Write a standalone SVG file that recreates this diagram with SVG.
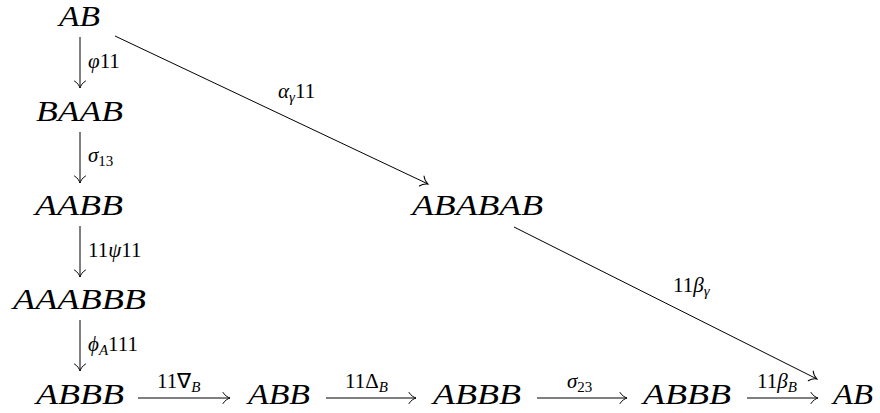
<svg xmlns="http://www.w3.org/2000/svg" width="880" height="413" viewBox="0 0 880 413">
<style>
.n{font-family:"Liberation Serif","Times New Roman",serif;font-style:italic;font-size:29px;fill:#000}
.l{font-family:"Liberation Serif","Times New Roman",serif;font-size:21px;fill:#000}
.i{font-style:italic}
.s{font-size:15px}
.e{stroke:#000;stroke-width:1;fill:none;marker-end:url(#tip)}
</style>
<defs>
<marker id="tip" markerUnits="userSpaceOnUse" viewBox="-8 -7 10 14" markerWidth="10" markerHeight="14" refX="0" refY="0" orient="auto">
<path d="M-7,-5.5 C-5,-2 -1.5,-0.5 0,0 C-1.5,0.5 -5,2 -7,5.5" stroke="#000" stroke-width="1" fill="none" stroke-linecap="round"/>
</marker>
</defs>
<rect width="880" height="413" fill="#fff"/>
<g id="connectors">
<line class="e" x1="80" y1="37" x2="80" y2="88"/>
<line class="e" x1="80" y1="132" x2="80" y2="183"/>
<line class="e" x1="80" y1="226" x2="80" y2="277"/>
<line class="e" x1="80" y1="320" x2="80" y2="371"/>
<line class="e" x1="138" y1="398" x2="230" y2="398"/>
<line class="e" x1="326" y1="398" x2="416" y2="398"/>
<line class="e" x1="537" y1="398" x2="627" y2="398"/>
<line class="e" x1="747" y1="398" x2="818" y2="398"/>
<line class="e" x1="115" y1="36" x2="428" y2="184"/>
<line class="e" x1="514" y1="227" x2="817" y2="379"/>
<text class="l" x="88" y="68"><tspan class="i">φ</tspan>11</text>
<text class="l" x="88" y="162"><tspan class="i">σ</tspan><tspan class="s" dy="4">13</tspan></text>
<text class="l" x="88" y="257">11<tspan class="i">ψ</tspan>11</text>
<text class="l" x="88" y="351"><tspan class="i">ϕ</tspan><tspan class="s i" dy="4">A</tspan><tspan dy="-4">111</tspan></text>
<text class="l" x="157" y="388">11∇<tspan class="s i" dy="4">B</tspan></text>
<text class="l" x="345" y="388">11Δ<tspan class="s i" dy="4">B</tspan></text>
<text class="l" x="567" y="388"><tspan class="i">σ</tspan><tspan class="s" dy="4">23</tspan></text>
<text class="l" x="757" y="388">11<tspan class="i">β</tspan><tspan class="s i" dy="4">B</tspan></text>
<text class="l" x="278" y="98"><tspan class="i">α</tspan><tspan class="s i" dy="4">γ</tspan><tspan dy="-4">11</tspan></text>
<text class="l" x="673" y="292">11<tspan class="i">β</tspan><tspan class="s i" dy="4">γ</tspan></text>
</g>
<g id="n1"><text class="n" x="59" y="26" textLength="41" lengthAdjust="spacingAndGlyphs">AB</text></g>
<g id="n2"><text class="n" x="36" y="121" textLength="87" lengthAdjust="spacingAndGlyphs">BAAB</text></g>
<g id="n3"><text class="n" x="35" y="215" textLength="88" lengthAdjust="spacingAndGlyphs">AABB</text></g>
<g id="n4"><text class="n" x="13" y="309" textLength="133" lengthAdjust="spacingAndGlyphs">AAABBB</text></g>
<g id="n5"><text class="n" x="36" y="404" textLength="88" lengthAdjust="spacingAndGlyphs">ABBB</text></g>
<g id="n6"><text class="n" x="248" y="404" textLength="62" lengthAdjust="spacingAndGlyphs">ABB</text></g>
<g id="n7"><text class="n" x="433" y="404" textLength="88" lengthAdjust="spacingAndGlyphs">ABBB</text></g>
<g id="n8"><text class="n" x="643" y="404" textLength="88" lengthAdjust="spacingAndGlyphs">ABBB</text></g>
<g id="n9"><text class="n" x="833" y="404" textLength="40" lengthAdjust="spacingAndGlyphs">AB</text></g>
<g id="n10"><text class="n" x="412" y="215" textLength="131" lengthAdjust="spacingAndGlyphs">ABABAB</text></g>
</svg>
